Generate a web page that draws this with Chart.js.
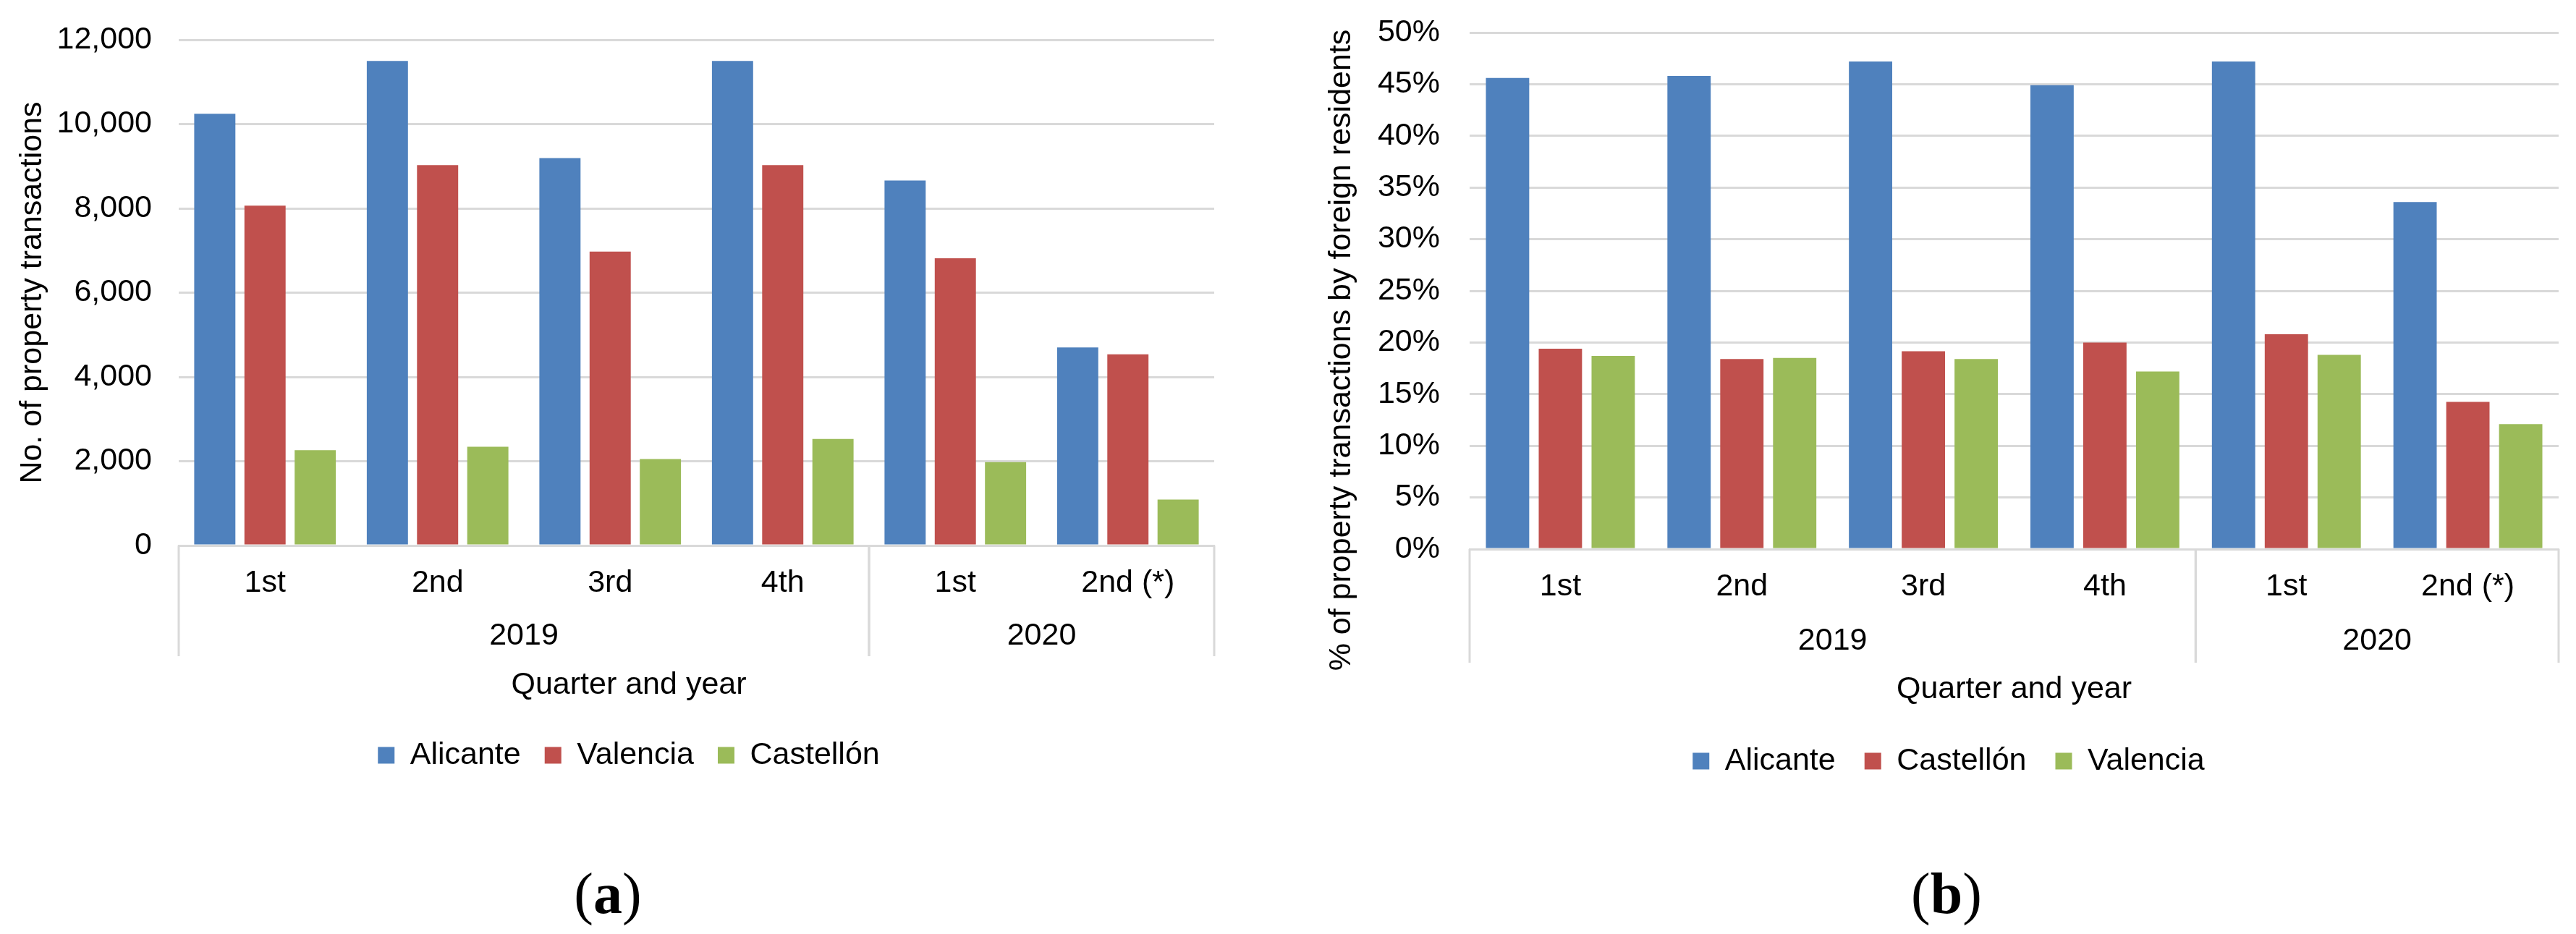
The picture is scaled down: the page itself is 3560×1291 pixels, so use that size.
<!DOCTYPE html>
<html>
<head>
<meta charset="utf-8">
<script src="https://cdn.jsdelivr.net/npm/chart.js@4.4.1/dist/chart.umd.min.js"></script>
<style>
  body { margin: 0; background: #fff; }
  #page { position: relative; width: 3560px; height: 1291px; overflow: hidden; }
  .panel { position: absolute; top: 0; width: 1780px; height: 1291px; }
  .cap { position: absolute; top: 1190px; width: 200px; text-align: center;
         font-family: "Liberation Serif", "Times New Roman", serif; font-size: 80px; color: #000; }
  .cap b { font-weight: bold; }
</style>
</head>
<body>
<div id="page">
  <div class="panel" style="left:0"><canvas id="chartA"></canvas></div>
  <div class="panel" style="left:1780px"><canvas id="chartB"></canvas></div>
  <div class="cap" style="left:740px">(<b>a</b>)</div>
  <div class="cap" style="left:2590px">(<b>b</b>)</div>
</div>
<script>
// categories
const quarters = ['1st', '2nd', '3rd', '4th', '1st', '2nd (*)'];
const years = ['2019', '2020'];
const yearSpans = [4, 2];

// (a) number of property transactions
const alicanteTx = [10245, 11500, 9195, 11500, 8660, 4700];
const valenciaTx = [8065, 9025, 6975, 9025, 6815, 4535];
const castellonTx = [2260, 2345, 2050, 2530, 1980, 1090];

// (b) % of transactions by foreign residents
const alicantePct = [45.6, 45.8, 47.2, 44.9, 47.2, 33.6];
const castellonPct = [19.4, 18.4, 19.15, 20.0, 20.8, 14.25];
const valenciaPct = [18.7, 18.5, 18.4, 17.2, 18.8, 12.1];

const BLUE = '#4F81BD', RED = '#C0504D', GREEN = '#9BBB59', GRID = '#D9D9D9';
const FONT = "'Liberation Sans', Arial, sans-serif";

Chart.defaults.font.family = FONT;
Chart.defaults.font.size = 43;
Chart.defaults.color = '#000';

// year row under the quarter labels, with the group separators
const yearGroups = {
    id: 'yearGroups',
    afterDraw(chart, args, opts) {
        const x = chart.scales.x;
        const ctx = chart.ctx;
        const top = chart.chartArea.bottom;
        const half = (x.getPixelForTick(1) - x.getPixelForTick(0)) / 2;
        ctx.save();
        ctx.strokeStyle = GRID;
        ctx.lineWidth = 3;
        ctx.fillStyle = '#000';
        ctx.font = '43px ' + FONT;
        ctx.textAlign = 'center';
        ctx.textBaseline = 'middle';
        let start = 0;
        years.forEach((yr, i) => {
            const end = start + yearSpans[i] - 1;
            const l = x.getPixelForTick(start) - half;
            const r = x.getPixelForTick(end) + half;
            ctx.fillText(yr, (l + r) / 2, top + opts.labelOffset);
            [l, r].forEach(px => {
                ctx.beginPath();
                ctx.moveTo(px, top);
                ctx.lineTo(px, top + opts.lineLength);
                ctx.stroke();
            });
            start = end + 1;
        });
        ctx.restore();
    }
};

// rotated y title, placed like the original (not always centred on the plot)
const sideTitle = {
    id: 'sideTitle',
    afterDraw(chart, args, opts) {
        if (!opts.text) return;
        const ctx = chart.ctx;
        ctx.save();
        ctx.translate(opts.x, opts.y);
        ctx.rotate(-Math.PI / 2);
        ctx.fillStyle = '#000';
        ctx.font = '43px ' + FONT;
        ctx.textAlign = 'center';
        ctx.textBaseline = 'middle';
        ctx.fillText(opts.text, 0, 0);
        ctx.restore();
    }
};

function legendOpts(gap) {
    return {
        position: 'bottom',
        labels: { boxWidth: 23, boxHeight: 23, padding: gap, font: { size: 43 }, color: '#000' }
    };
}

function bars(label, data, color) {
    return { label: label, data: data, backgroundColor: color,
             categoryPercentage: 0.873, barPercentage: 0.82 };
}

// y grid: invisible tick marks give the gap between labels and plot
function yGrid(gap) {
    return { color: GRID, lineWidth: 3, drawTicks: true, tickLength: gap, tickColor: 'rgba(0,0,0,0)' };
}

let chartA = new Chart('chartA', {
    type: 'bar',
    plugins: [yearGroups, sideTitle],
    data: {
        labels: quarters,
        datasets: [
            bars('Alicante', alicanteTx, BLUE),
            bars('Valencia', valenciaTx, RED),
            bars('Castellón', castellonTx, GREEN)
        ]
    },
    options: {
        responsive: true,
        maintainAspectRatio: false,
        animation: false,
        layout: { padding: { top: 55, right: 102, bottom: 215.5, left: 60 } },
        plugins: {
            legend: legendOpts(33),
            tooltip: { enabled: false },
            title: {
                display: true,
                text: 'Quarter and year',
                position: 'bottom',
                weight: 500,
                font: { size: 43, weight: 'normal' },
                color: '#000',
                padding: { top: 62.8, bottom: 16.7 }
            },
            yearGroups: { labelOffset: 125, lineLength: 153 },
            sideTitle: { text: 'No. of property transactions', x: 45, y: 404.5 }
        },
        scales: {
            x: {
                grid: { display: false, drawTicks: false },
                border: { display: true, color: GRID, width: 3 },
                ticks: { padding: 26.4, font: { size: 43 }, color: '#000', maxRotation: 0, autoSkip: false }
            },
            y: {
                min: 0,
                max: 12000,
                afterFit: scale => { scale.width = 187; },
                grid: yGrid(37),
                border: { display: false },
                ticks: {
                    stepSize: 2000,
                    padding: 0,
                    font: { size: 43 },
                    color: '#000',
                    callback: value => value.toLocaleString('en-US')
                }
            }
        }
    }
});

let chartB = new Chart('chartB', {
    type: 'bar',
    plugins: [yearGroups, sideTitle],
    data: {
        labels: quarters,
        datasets: [
            bars('Alicante', alicantePct, BLUE),
            bars('Castellón', castellonPct, RED),
            bars('Valencia', valenciaPct, GREEN)
        ]
    },
    options: {
        responsive: true,
        maintainAspectRatio: false,
        animation: false,
        layout: { padding: { top: 45, right: 24, bottom: 207.5, left: 70 } },
        plugins: {
            legend: legendOpts(40),
            tooltip: { enabled: false },
            yearGroups: { labelOffset: 127, lineLength: 157 },
            sideTitle: { text: '% of property transactions by foreign residents', x: 74, y: 484 }
        },
        scales: {
            x: {
                grid: { display: false, drawTicks: false },
                border: { display: true, color: GRID, width: 3 },
                ticks: { padding: 26.4, font: { size: 43 }, color: '#000', maxRotation: 0, autoSkip: false },
                title: {
                    display: true,
                    text: 'Quarter and year',
                    font: { size: 43 },
                    color: '#000',
                    padding: { top: 63.8, bottom: 11.7 }
                }
            },
            y: {
                min: 0,
                max: 50,
                afterFit: scale => { scale.width = 181; },
                grid: yGrid(41),
                border: { display: false },
                ticks: {
                    stepSize: 5,
                    padding: 0,
                    font: { size: 43 },
                    color: '#000',
                    callback: value => value + '%'
                }
            }
        }
    }
});
</script>
</body>
</html>
